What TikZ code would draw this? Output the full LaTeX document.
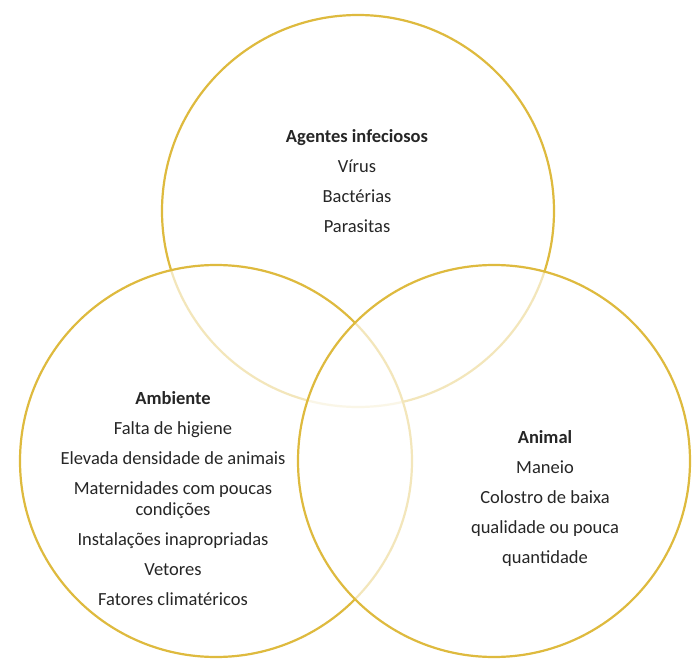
\documentclass[tikz,border=0pt]{standalone}
\usepackage{fontspec}
\setmainfont{Carlito}
\usepackage{xcolor}
\usepackage{tikz}
\usetikzlibrary{positioning}

\definecolor{venngold}{RGB}{222,186,62}

\tikzset{
    venn/.style={circle, draw=venngold, line width=2.2pt, fill=white, fill opacity=0.65, draw opacity=1, minimum size=392pt, inner sep=0pt},
    vlist/.style={align=center, text=black!85, font=\fontsize{18.5}{21}\selectfont}
}

\begin{document}
\begin{tikzpicture}[x=1pt, y=-1pt]
    \useasboundingbox (0,0) rectangle (694,661);

    % the three circles
    \node[venn] (agentes) at (358,211) {};
    \node[venn] (ambiente) at (216,461) {};
    \node[venn] (animal) at (494,461) {};

    % texts
    \node[vlist] (agentestxt) at (357,181) {\textbf{Agentes infeciosos}\\[9pt] Vírus\\[9pt] Bactérias\\[9pt] Parasitas};
    \node[vlist] (ambientetxt) at (173,499) {\textbf{Ambiente}\\[9pt] Falta de higiene\\[9pt] Elevada densidade de animais\\[9pt] Maternidades com poucas\\ condições\\[9pt] Instalações inapropriadas\\[9pt] Vetores\\[9pt] Fatores climatéricos};
    \node[vlist] (animaltxt) at (545,498) {\textbf{Animal}\\[9pt] Maneio\\[9pt] Colostro de baixa\\[9pt] qualidade ou pouca\\[9pt] quantidade};
\end{tikzpicture}
\end{document}
